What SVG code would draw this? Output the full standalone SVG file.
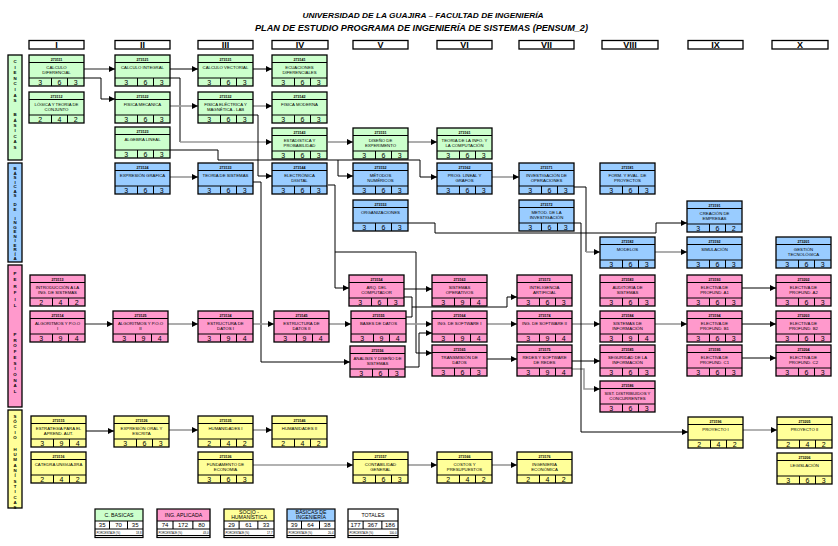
<svg xmlns="http://www.w3.org/2000/svg" xmlns:xlink="http://www.w3.org/1999/xlink" width="838" height="546" viewBox="0 0 838 546">
<style>
text{font-family:"Liberation Sans",Arial,sans-serif;fill:#000}
.g{fill:#CCFFCC}.b{fill:#99CCFF}.p{fill:#FF99CC}.y{fill:#FFFF99}.w{fill:#FFFFFF}
.cd{font-size:3.6px;font-weight:bold;text-anchor:middle}
.tt{font-size:4.3px;text-anchor:middle}
.v{font-size:7px;text-anchor:middle}
.k{fill:none;stroke:#000;stroke-width:1}
.gr{fill:none;stroke:#999;stroke-width:1.6}
.dk{fill:none;stroke:#555;stroke-width:1.3}
.hd{fill:#fff;stroke:#000;stroke-width:1.3}
.hn{font-size:9px;font-weight:bold;text-anchor:middle}
.vl{font-size:4.4px;font-weight:bold;text-anchor:middle}
.lg{stroke:#000;stroke-width:1.2}
.lt{font-size:5.2px;text-anchor:middle}
.lv{font-size:6px;text-anchor:middle}
.lp{font-size:2.8px}
</style>
<defs>
<marker id="a" viewBox="0 0 10 10" refX="10" refY="5" markerWidth="7" markerHeight="6" orient="auto" markerUnits="userSpaceOnUse"><path d="M0,0L10,5L0,10z" fill="#000"/></marker>
<g id="fr"><rect width="55" height="31" fill="none" stroke="#000" stroke-width="1.3"/><path d="M0 7.5H55M0 23H55M22.5 23V31M38.5 23V31" fill="none" stroke="#000" stroke-width="1"/></g>
<g id="lfr"><path d="M0 12H48M0 20H48M14.5 12V20M32.5 12V20M0 26.5H48" fill="none" stroke="#000" stroke-width="1"/><rect width="48" height="28.5" fill="none" stroke="#000" stroke-width="1.2"/></g>
</defs>
<rect width="838" height="546" fill="#fff"/>

<g id="title">
<text x="423" y="17.5" font-size="8" font-weight="bold" font-style="italic" text-anchor="middle" textLength="241" lengthAdjust="spacingAndGlyphs">UNIVERSIDAD DE LA GUAJIRA – FACULTAD DE INGENIERÍA</text>
<text x="421.5" y="30.5" font-size="9.5" font-weight="bold" font-style="italic" text-anchor="middle" textLength="333" lengthAdjust="spacingAndGlyphs">PLAN DE ESTUDIO PROGRAMA DE INGENIERÍA DE SISTEMAS (PENSUM_2)</text>
</g>

<g id="semesters">
<rect class="hd" x="29" y="40.5" width="55" height="8.5"/><text class="hn" x="56.5" y="48">I</text>
<rect class="hd" x="115" y="40.5" width="55" height="8.5"/><text class="hn" x="142.5" y="48">II</text>
<rect class="hd" x="198" y="40.5" width="55" height="8.5"/><text class="hn" x="225.5" y="48">III</text>
<rect class="hd" x="272" y="40.5" width="56" height="8.5"/><text class="hn" x="300" y="48">IV</text>
<rect class="hd" x="353" y="40.5" width="55" height="8.5"/><text class="hn" x="380.5" y="48">V</text>
<rect class="hd" x="437" y="40.5" width="55" height="8.5"/><text class="hn" x="464.5" y="48">VI</text>
<rect class="hd" x="519" y="40.5" width="55" height="8.5"/><text class="hn" x="546.5" y="48">VII</text>
<rect class="hd" x="602" y="40.5" width="56" height="8.5"/><text class="hn" x="630" y="48">VIII</text>
<rect class="hd" x="688" y="40.5" width="55" height="8.5"/><text class="hn" x="715.5" y="48">IX</text>
<rect class="hd" x="772" y="40.5" width="56" height="8.5"/><text class="hn" x="800" y="48">X</text>
</g>

<g id="areas">
<rect class="g" x="8" y="55" width="14" height="105" stroke="#000" stroke-width="1.3"/>
<text class="vl"><tspan x="15" y="63">C</tspan><tspan x="15" dy="5.6">I</tspan><tspan x="15" dy="5.6">E</tspan><tspan x="15" dy="5.6">N</tspan><tspan x="15" dy="5.6">C</tspan><tspan x="15" dy="5.6">I</tspan><tspan x="15" dy="5.6">A</tspan><tspan x="15" dy="5.6">S</tspan><tspan x="15" dy="14">B</tspan><tspan x="15" dy="5.4">Á</tspan><tspan x="15" dy="5.4">S</tspan><tspan x="15" dy="5.4">I</tspan><tspan x="15" dy="5.4">C</tspan><tspan x="15" dy="5.4">A</tspan><tspan x="15" dy="5.4">S</tspan></text>
<rect class="b" x="8" y="163" width="14" height="99" stroke="#000" stroke-width="1.3"/>
<text class="vl"><tspan x="15" y="170">B</tspan><tspan x="15" dy="4.5">Á</tspan><tspan x="15" dy="4.5">S</tspan><tspan x="15" dy="4.5">I</tspan><tspan x="15" dy="4.5">C</tspan><tspan x="15" dy="4.5">A</tspan><tspan x="15" dy="4.5">S</tspan><tspan x="15" dy="9">D</tspan><tspan x="15" dy="4.5">E</tspan><tspan x="15" dy="9">I</tspan><tspan x="15" dy="4.5">N</tspan><tspan x="15" dy="4.5">G</tspan><tspan x="15" dy="4.5">E</tspan><tspan x="15" dy="4.5">N</tspan><tspan x="15" dy="4.5">I</tspan><tspan x="15" dy="4.5">E</tspan><tspan x="15" dy="4.5">R</tspan><tspan x="15" dy="4.5">Í</tspan><tspan x="15" dy="4.5">A</tspan></text>
<rect class="p" x="8" y="265" width="14" height="142" stroke="#000" stroke-width="1.3"/>
<text class="vl"><tspan x="15" y="275">P</tspan><tspan x="15" dy="6.4">E</tspan><tspan x="15" dy="6.4">R</tspan><tspan x="15" dy="6.4">F</tspan><tspan x="15" dy="6.4">I</tspan><tspan x="15" dy="6.4">L</tspan><tspan x="15" dy="29">P</tspan><tspan x="15" dy="5.7">R</tspan><tspan x="15" dy="5.7">O</tspan><tspan x="15" dy="5.7">F</tspan><tspan x="15" dy="5.7">E</tspan><tspan x="15" dy="5.7">S</tspan><tspan x="15" dy="5.7">I</tspan><tspan x="15" dy="5.7">O</tspan><tspan x="15" dy="5.7">N</tspan><tspan x="15" dy="5.7">A</tspan><tspan x="15" dy="5.7">L</tspan></text>
<rect class="y" x="8" y="410" width="14" height="98" stroke="#000" stroke-width="1.3"/>
<text class="vl"><tspan x="15" y="418">S</tspan><tspan x="15" dy="5.2">Ó</tspan><tspan x="15" dy="5.2">C</tspan><tspan x="15" dy="5.2">I</tspan><tspan x="15" dy="5.2">O</tspan><tspan x="15" dy="12">H</tspan><tspan x="15" dy="5.3">U</tspan><tspan x="15" dy="5.3">M</tspan><tspan x="15" dy="5.3">A</tspan><tspan x="15" dy="5.3">N</tspan><tspan x="15" dy="5.3">Í</tspan><tspan x="15" dy="5.3">S</tspan><tspan x="15" dy="5.3">T</tspan><tspan x="15" dy="5.3">I</tspan><tspan x="15" dy="5.3">C</tspan><tspan x="15" dy="5.3">A</tspan><tspan x="15" dy="5.3">S</tspan></text>
</g>

<g id="connectors">
<path class="dk" d="M84 69H115" marker-end="url(#a)"/>
<path class="k" d="M84 78H101V99H115" marker-end="url(#a)"/>
<path class="k" d="M170 69H198" marker-end="url(#a)"/>
<path class="k" d="M170 78H180V142"/>
<path class="gr" d="M180 142H272" marker-end="url(#a)"/>
<path class="gr" d="M170 106H198" marker-end="url(#a)"/>
<path class="k" d="M170 150H218V160H420V177H437" marker-end="url(#a)"/>
<path class="k" d="M338 160V176H353" marker-end="url(#a)"/>
<path class="gr" d="M253 106H272" marker-end="url(#a)"/>
<path class="k" d="M253 115H258V176H272" marker-end="url(#a)"/>
<path class="k" d="M253 69H272" marker-end="url(#a)"/>
<path class="gr" d="M328 142H353" marker-end="url(#a)"/>
<path class="gr" d="M408 142H437" marker-end="url(#a)"/>
<path class="gr" d="M170 177H198" marker-end="url(#a)"/>
<path class="gr" d="M492 177H519" marker-end="url(#a)"/>
<path class="k" d="M574 187H586V252"/>
<path class="gr" d="M586 252H600" marker-end="url(#a)"/>
<path class="gr" d="M655 252H687" marker-end="url(#a)"/>
<path class="k" d="M407 223H435V233H656V223H687" marker-end="url(#a)"/>
<path class="k" d="M328 185H335V288H349" marker-end="url(#a)"/>
<path class="k" d="M335 252H416V353H432" marker-end="url(#a)"/>
<path class="k" d="M404 289H432" marker-end="url(#a)"/>
<path class="k" d="M404 297H412V317H406M412 307H507V297H517" marker-end="url(#a)"/>
<path class="k" d="M253 182H261V362H350" marker-end="url(#a)"/>
<path class="k" d="M405 367H419V333H432" marker-end="url(#a)"/>
<path class="dk" d="M85 324H113" marker-end="url(#a)"/>
<path class="gr" d="M168 324H198" marker-end="url(#a)"/>
<path class="gr" d="M253 324H274" marker-end="url(#a)"/>
<path class="gr" d="M329 324H351" marker-end="url(#a)"/>
<path class="gr" d="M406 324H432" marker-end="url(#a)"/>
<path class="gr" d="M487 324H517" marker-end="url(#a)"/>
<path class="gr" d="M572 324H600" marker-end="url(#a)"/>
<path class="gr" d="M655 324H687" marker-end="url(#a)"/>
<path class="k" d="M742 288H776" marker-end="url(#a)"/>
<path class="k" d="M742 324H776" marker-end="url(#a)"/>
<path class="k" d="M742 358H776" marker-end="url(#a)"/>
<path class="k" d="M487 359H517" marker-end="url(#a)"/>
<path class="k" d="M572 361H600" marker-end="url(#a)"/>
<path class="gr" d="M572 369H584V389H600" marker-end="url(#a)"/>
<path class="k" d="M574 223H581V432H688" marker-end="url(#a)"/>
<path class="k" d="M86 431H114" marker-end="url(#a)"/>
<path class="gr" d="M169 430H198" marker-end="url(#a)"/>
<path class="gr" d="M253 430H272" marker-end="url(#a)"/>
<path class="gr" d="M253 465H353" marker-end="url(#a)"/>
<path class="gr" d="M408 465H437" marker-end="url(#a)"/>
<path class="gr" d="M492 465H517" marker-end="url(#a)"/>
<path class="gr" d="M743 430H777" marker-end="url(#a)"/>
</g>

<g id="n273111" transform="translate(29,55)"><rect class="g" width="55" height="31"/><use href="#fr"/><text class="cd" x="27.5" y="5.8">273111</text><text class="tt" x="27.5" y="13.8">CALCULO</text><text class="tt" x="27.5" y="18.6">DIFERENCIAL</text><text class="v" x="11.2" y="29.8">3</text><text class="v" x="30.5" y="29.8">6</text><text class="v" x="46.7" y="29.8">3</text></g>
<g id="n273112" transform="translate(29,92)"><rect class="g" width="55" height="31"/><use href="#fr"/><text class="cd" x="27.5" y="5.8">273112</text><text class="tt" x="27.5" y="13.8">LÓGICA Y TEORÍA DE</text><text class="tt" x="27.5" y="18.6">CONJUNTO</text><text class="v" x="11.2" y="29.8">2</text><text class="v" x="30.5" y="29.8">4</text><text class="v" x="46.7" y="29.8">2</text></g>
<g id="n273113" transform="translate(30,275)"><rect class="p" width="55" height="31"/><use href="#fr"/><text class="cd" x="27.5" y="5.8">273113</text><text class="tt" x="27.5" y="13.8">INTRODUCCIÓN A LA</text><text class="tt" x="27.5" y="18.6">ING. DE SISTEMAS</text><text class="v" x="11.2" y="29.8">2</text><text class="v" x="30.5" y="29.8">4</text><text class="v" x="46.7" y="29.8">2</text></g>
<g id="n273114" transform="translate(30,311)"><rect class="p" width="55" height="31"/><use href="#fr"/><text class="cd" x="27.5" y="5.8">273114</text><text class="tt" x="27.5" y="13.8">ALGORITMOS Y P.O.O</text><text class="tt" x="27.5" y="18.6">I</text><text class="v" x="11.2" y="29.8">3</text><text class="v" x="30.5" y="29.8">9</text><text class="v" x="46.7" y="29.8">4</text></g>
<g id="n273115" transform="translate(31,416)"><rect class="y" width="55" height="31"/><use href="#fr"/><text class="cd" x="27.5" y="5.8">273115</text><text class="tt" x="27.5" y="13.8">ESTRATEGIA PARA EL</text><text class="tt" x="27.5" y="18.6">APREND. AUT.</text><text class="v" x="11.2" y="29.8">3</text><text class="v" x="30.5" y="29.8">9</text><text class="v" x="46.7" y="29.8">4</text></g>
<g id="n273116" transform="translate(31,452)"><rect class="y" width="55" height="31"/><use href="#fr"/><text class="cd" x="27.5" y="5.8">273116</text><text class="tt" x="27.5" y="13.8">CÁTEDRA UNIGUAJIRA</text><text class="v" x="11.2" y="29.8">2</text><text class="v" x="30.5" y="29.8">4</text><text class="v" x="46.7" y="29.8">2</text></g>

<g id="n273121" transform="translate(115,55)"><rect class="g" width="55" height="31"/><use href="#fr"/><text class="cd" x="27.5" y="5.8">273121</text><text class="tt" x="27.5" y="13.8">CALCULO INTEGRAL</text><text class="v" x="11.2" y="29.8">3</text><text class="v" x="30.5" y="29.8">6</text><text class="v" x="46.7" y="29.8">3</text></g>
<g id="n273122" transform="translate(115,92)"><rect class="g" width="55" height="31"/><use href="#fr"/><text class="cd" x="27.5" y="5.8">273122</text><text class="tt" x="27.5" y="13.8">FÍSICA MECÁNICA</text><text class="v" x="11.2" y="29.8">3</text><text class="v" x="30.5" y="29.8">6</text><text class="v" x="46.7" y="29.8">3</text></g>
<g id="n273123" transform="translate(115,127)"><rect class="g" width="55" height="31"/><use href="#fr"/><text class="cd" x="27.5" y="5.8">273123</text><text class="tt" x="27.5" y="13.8">ALGEBRA LINEAL</text><text class="v" x="11.2" y="29.8">3</text><text class="v" x="30.5" y="29.8">6</text><text class="v" x="46.7" y="29.8">3</text></g>
<g id="n273124" transform="translate(115,163)"><rect class="b" width="55" height="31"/><use href="#fr"/><text class="cd" x="27.5" y="5.8">273124</text><text class="tt" x="27.5" y="13.8">EXPRESIÓN GRAFICA</text><text class="v" x="11.2" y="29.8">3</text><text class="v" x="30.5" y="29.8">6</text><text class="v" x="46.7" y="29.8">3</text></g>
<g id="n273125" transform="translate(113,311)"><rect class="p" width="55" height="31"/><use href="#fr"/><text class="cd" x="27.5" y="5.8">273125</text><text class="tt" x="27.5" y="13.8">ALGORITMOS Y P.O.O</text><text class="tt" x="27.5" y="18.6">II</text><text class="v" x="11.2" y="29.8">3</text><text class="v" x="30.5" y="29.8">9</text><text class="v" x="46.7" y="29.8">4</text></g>
<g id="n273126" transform="translate(114,416)"><rect class="y" width="55" height="31"/><use href="#fr"/><text class="cd" x="27.5" y="5.8">273126</text><text class="tt" x="27.5" y="13.8">EXPRESIÓN ORAL Y</text><text class="tt" x="27.5" y="18.6">ESCRITA</text><text class="v" x="11.2" y="29.8">3</text><text class="v" x="30.5" y="29.8">6</text><text class="v" x="46.7" y="29.8">3</text></g>

<g id="n273131" transform="translate(198,55)"><rect class="g" width="55" height="31"/><use href="#fr"/><text class="cd" x="27.5" y="5.8">273131</text><text class="tt" x="27.5" y="13.8">CALCULO VECTORIAL</text><text class="v" x="11.2" y="29.8">3</text><text class="v" x="30.5" y="29.8">6</text><text class="v" x="46.7" y="29.8">3</text></g>
<g id="n273132" transform="translate(198,92)"><rect class="g" width="55" height="31"/><use href="#fr"/><text class="cd" x="27.5" y="5.8">273132</text><text class="tt" x="27.5" y="13.8">FÍSICA ELÉCTRICA Y</text><text class="tt" x="27.5" y="18.6">MAGNÉTICA - LAB</text><text class="v" x="11.2" y="29.8">3</text><text class="v" x="30.5" y="29.8">6</text><text class="v" x="46.7" y="29.8">3</text></g>
<g id="n273133" transform="translate(198,163)"><rect class="b" width="55" height="31"/><use href="#fr"/><text class="cd" x="27.5" y="5.8">273133</text><text class="tt" x="27.5" y="13.8">TEORÍA DE SISTEMAS</text><text class="v" x="11.2" y="29.8">3</text><text class="v" x="30.5" y="29.8">6</text><text class="v" x="46.7" y="29.8">3</text></g>
<g id="n273134" transform="translate(198,311)"><rect class="p" width="55" height="31"/><use href="#fr"/><text class="cd" x="27.5" y="5.8">273134</text><text class="tt" x="27.5" y="13.8">ESTRUCTURA DE</text><text class="tt" x="27.5" y="18.6">DATOS I</text><text class="v" x="11.2" y="29.8">3</text><text class="v" x="30.5" y="29.8">9</text><text class="v" x="46.7" y="29.8">4</text></g>
<g id="n273135" transform="translate(198,416)"><rect class="y" width="55" height="31"/><use href="#fr"/><text class="cd" x="27.5" y="5.8">273135</text><text class="tt" x="27.5" y="13.8">HUMANIDADES I</text><text class="v" x="11.2" y="29.8">2</text><text class="v" x="30.5" y="29.8">4</text><text class="v" x="46.7" y="29.8">2</text></g>
<g id="n273136" transform="translate(198,452)"><rect class="y" width="55" height="31"/><use href="#fr"/><text class="cd" x="27.5" y="5.8">273136</text><text class="tt" x="27.5" y="13.8">FUNDAMENTO DE</text><text class="tt" x="27.5" y="18.6">ECONOMÍA</text><text class="v" x="11.2" y="29.8">3</text><text class="v" x="30.5" y="29.8">6</text><text class="v" x="46.7" y="29.8">3</text></g>

<g id="n273141" transform="translate(272,55)"><rect class="g" width="55" height="31"/><use href="#fr"/><text class="cd" x="27.5" y="5.8">273141</text><text class="tt" x="27.5" y="13.8">ECUACIONES</text><text class="tt" x="27.5" y="18.6">DIFERENCIALES</text><text class="v" x="11.2" y="29.8">3</text><text class="v" x="30.5" y="29.8">6</text><text class="v" x="46.7" y="29.8">3</text></g>
<g id="n273142" transform="translate(272,92)"><rect class="g" width="55" height="31"/><use href="#fr"/><text class="cd" x="27.5" y="5.8">273142</text><text class="tt" x="27.5" y="13.8">FÍSICA MODERNA</text><text class="v" x="11.2" y="29.8">3</text><text class="v" x="30.5" y="29.8">6</text><text class="v" x="46.7" y="29.8">3</text></g>
<g id="n273143" transform="translate(272,128)"><rect class="g" width="55" height="31"/><use href="#fr"/><text class="cd" x="27.5" y="5.8">273143</text><text class="tt" x="27.5" y="13.8">ESTADÍSTICA Y</text><text class="tt" x="27.5" y="18.6">PROBABILIDAD</text><text class="v" x="11.2" y="29.8">3</text><text class="v" x="30.5" y="29.8">6</text><text class="v" x="46.7" y="29.8">3</text></g>
<g id="n273144" transform="translate(272,163)"><rect class="b" width="55" height="31"/><use href="#fr"/><text class="cd" x="27.5" y="5.8">273144</text><text class="tt" x="27.5" y="13.8">ELECTRÓNICA</text><text class="tt" x="27.5" y="18.6">DIGITAL</text><text class="v" x="11.2" y="29.8">3</text><text class="v" x="30.5" y="29.8">6</text><text class="v" x="46.7" y="29.8">3</text></g>
<g id="n273145" transform="translate(274,311)"><rect class="p" width="55" height="31"/><use href="#fr"/><text class="cd" x="27.5" y="5.8">273145</text><text class="tt" x="27.5" y="13.8">ESTRUCTURA DE</text><text class="tt" x="27.5" y="18.6">DATOS II</text><text class="v" x="11.2" y="29.8">3</text><text class="v" x="30.5" y="29.8">9</text><text class="v" x="46.7" y="29.8">4</text></g>
<g id="n273146" transform="translate(272,416)"><rect class="y" width="55" height="31"/><use href="#fr"/><text class="cd" x="27.5" y="5.8">273146</text><text class="tt" x="27.5" y="13.8">HUMANIDADES II</text><text class="v" x="11.2" y="29.8">2</text><text class="v" x="30.5" y="29.8">4</text><text class="v" x="46.7" y="29.8">2</text></g>

<g id="n273151" transform="translate(353,128)"><rect class="g" width="55" height="31"/><use href="#fr"/><text class="cd" x="27.5" y="5.8">273151</text><text class="tt" x="27.5" y="13.8">DISEÑO DE</text><text class="tt" x="27.5" y="18.6">EXPERIMENTO</text><text class="v" x="11.2" y="29.8">3</text><text class="v" x="30.5" y="29.8">6</text><text class="v" x="46.7" y="29.8">3</text></g>
<g id="n273152" transform="translate(353,163)"><rect class="b" width="55" height="31"/><use href="#fr"/><text class="cd" x="27.5" y="5.8">273152</text><text class="tt" x="27.5" y="13.8">MÉTODOS</text><text class="tt" x="27.5" y="18.6">NUMÉRICOS</text><text class="v" x="11.2" y="29.8">3</text><text class="v" x="30.5" y="29.8">6</text><text class="v" x="46.7" y="29.8">3</text></g>
<g id="n273153" transform="translate(353,200)"><rect class="b" width="55" height="31"/><use href="#fr"/><text class="cd" x="27.5" y="5.8">273153</text><text class="tt" x="27.5" y="13.8">ORGANIZACIONES</text><text class="v" x="11.2" y="29.8">3</text><text class="v" x="30.5" y="29.8">6</text><text class="v" x="46.7" y="29.8">3</text></g>
<g id="n273154" transform="translate(349,275)"><rect class="p" width="55" height="31"/><use href="#fr"/><text class="cd" x="27.5" y="5.8">273154</text><text class="tt" x="27.5" y="13.8">ARQ. DEL</text><text class="tt" x="27.5" y="18.6">COMPUTADOR</text><text class="v" x="11.2" y="29.8">3</text><text class="v" x="30.5" y="29.8">6</text><text class="v" x="46.7" y="29.8">3</text></g>
<g id="n273155" transform="translate(351,311)"><rect class="p" width="55" height="31"/><use href="#fr"/><text class="cd" x="27.5" y="5.8">273155</text><text class="tt" x="27.5" y="13.8">BASES DE DATOS</text><text class="v" x="11.2" y="29.8">3</text><text class="v" x="30.5" y="29.8">9</text><text class="v" x="46.7" y="29.8">4</text></g>
<g id="n273156" transform="translate(350,346)"><rect class="p" width="55" height="31"/><use href="#fr"/><text class="cd" x="27.5" y="5.8">273156</text><text class="tt" x="27.5" y="13.8">ANÁLISIS Y DISEÑO DE</text><text class="tt" x="27.5" y="18.6">SISTEMAS</text><text class="v" x="11.2" y="29.8">3</text><text class="v" x="30.5" y="29.8">6</text><text class="v" x="46.7" y="29.8">3</text></g>
<g id="n273157" transform="translate(353,452)"><rect class="y" width="55" height="31"/><use href="#fr"/><text class="cd" x="27.5" y="5.8">273157</text><text class="tt" x="27.5" y="13.8">CONTABILIDAD</text><text class="tt" x="27.5" y="18.6">GENERAL</text><text class="v" x="11.2" y="29.8">3</text><text class="v" x="30.5" y="29.8">6</text><text class="v" x="46.7" y="29.8">3</text></g>

<g id="n273161" transform="translate(437,128)"><rect class="g" width="55" height="31"/><use href="#fr"/><text class="cd" x="27.5" y="5.8">273161</text><text class="tt" x="27.5" y="13.8">TEORÍA DE LA INFO. Y</text><text class="tt" x="27.5" y="18.6">LA COMPUTACIÓN</text><text class="v" x="11.2" y="29.8">3</text><text class="v" x="30.5" y="29.8">6</text><text class="v" x="46.7" y="29.8">3</text></g>
<g id="n273162" transform="translate(437,163)"><rect class="b" width="55" height="31"/><use href="#fr"/><text class="cd" x="27.5" y="5.8">273162</text><text class="tt" x="27.5" y="13.8">PROG. LINEAL Y</text><text class="tt" x="27.5" y="18.6">GRAFOS</text><text class="v" x="11.2" y="29.8">3</text><text class="v" x="30.5" y="29.8">6</text><text class="v" x="46.7" y="29.8">3</text></g>
<g id="n273163" transform="translate(432,275)"><rect class="p" width="55" height="31"/><use href="#fr"/><text class="cd" x="27.5" y="5.8">273163</text><text class="tt" x="27.5" y="13.8">SISTEMAS</text><text class="tt" x="27.5" y="18.6">OPERATIVOS</text><text class="v" x="11.2" y="29.8">3</text><text class="v" x="30.5" y="29.8">9</text><text class="v" x="46.7" y="29.8">4</text></g>
<g id="n273164" transform="translate(432,311)"><rect class="p" width="55" height="31"/><use href="#fr"/><text class="cd" x="27.5" y="5.8">273164</text><text class="tt" x="27.5" y="13.8">ING. DE SOFTWARE I</text><text class="v" x="11.2" y="29.8">3</text><text class="v" x="30.5" y="29.8">9</text><text class="v" x="46.7" y="29.8">4</text></g>
<g id="n273165" transform="translate(432,345)"><rect class="p" width="55" height="31"/><use href="#fr"/><text class="cd" x="27.5" y="5.8">273165</text><text class="tt" x="27.5" y="13.8">TRANSMISIÓN DE</text><text class="tt" x="27.5" y="18.6">DATOS</text><text class="v" x="11.2" y="29.8">3</text><text class="v" x="30.5" y="29.8">6</text><text class="v" x="46.7" y="29.8">3</text></g>
<g id="n273166" transform="translate(437,452)"><rect class="y" width="55" height="31"/><use href="#fr"/><text class="cd" x="27.5" y="5.8">273166</text><text class="tt" x="27.5" y="13.8">COSTOS Y</text><text class="tt" x="27.5" y="18.6">PRESUPUESTOS</text><text class="v" x="11.2" y="29.8">2</text><text class="v" x="30.5" y="29.8">4</text><text class="v" x="46.7" y="29.8">2</text></g>

<g id="n273171" transform="translate(519,163)"><rect class="b" width="55" height="31"/><use href="#fr"/><text class="cd" x="27.5" y="5.8">273171</text><text class="tt" x="27.5" y="13.8">INVESTIGACIÓN DE</text><text class="tt" x="27.5" y="18.6">OPERACIONES</text><text class="v" x="11.2" y="29.8">3</text><text class="v" x="30.5" y="29.8">6</text><text class="v" x="46.7" y="29.8">3</text></g>
<g id="n273172" transform="translate(519,200)"><rect class="b" width="55" height="31"/><use href="#fr"/><text class="cd" x="27.5" y="5.8">273172</text><text class="tt" x="27.5" y="13.8">METOD. DE LA</text><text class="tt" x="27.5" y="18.6">INVESTIGACIÓN</text><text class="v" x="11.2" y="29.8">3</text><text class="v" x="30.5" y="29.8">6</text><text class="v" x="46.7" y="29.8">3</text></g>
<g id="n273173" transform="translate(517,275)"><rect class="p" width="55" height="31"/><use href="#fr"/><text class="cd" x="27.5" y="5.8">273173</text><text class="tt" x="27.5" y="13.8">INTELIGENCIA</text><text class="tt" x="27.5" y="18.6">ARTIFICIAL</text><text class="v" x="11.2" y="29.8">3</text><text class="v" x="30.5" y="29.8">6</text><text class="v" x="46.7" y="29.8">3</text></g>
<g id="n273174" transform="translate(517,311)"><rect class="p" width="55" height="31"/><use href="#fr"/><text class="cd" x="27.5" y="5.8">273174</text><text class="tt" x="27.5" y="13.8">ING. DE SOFTWARE II</text><text class="v" x="11.2" y="29.8">3</text><text class="v" x="30.5" y="29.8">9</text><text class="v" x="46.7" y="29.8">4</text></g>
<g id="n273175" transform="translate(517,345)"><rect class="p" width="55" height="31"/><use href="#fr"/><text class="cd" x="27.5" y="5.8">273175</text><text class="tt" x="27.5" y="13.8">REDES Y SOFTWARE</text><text class="tt" x="27.5" y="18.6">DE REDES</text><text class="v" x="11.2" y="29.8">3</text><text class="v" x="30.5" y="29.8">9</text><text class="v" x="46.7" y="29.8">4</text></g>
<g id="n273176" transform="translate(517,452)"><rect class="y" width="55" height="31"/><use href="#fr"/><text class="cd" x="27.5" y="5.8">273176</text><text class="tt" x="27.5" y="13.8">INGENIERÍA</text><text class="tt" x="27.5" y="18.6">ECONÓMICA</text><text class="v" x="11.2" y="29.8">2</text><text class="v" x="30.5" y="29.8">4</text><text class="v" x="46.7" y="29.8">2</text></g>

<g id="n273181" transform="translate(600,163)"><rect class="b" width="55" height="31"/><use href="#fr"/><text class="cd" x="27.5" y="5.8">273181</text><text class="tt" x="27.5" y="13.8">FORM. Y EVAL. DE</text><text class="tt" x="27.5" y="18.6">PROYECTOS</text><text class="v" x="11.2" y="29.8">3</text><text class="v" x="30.5" y="29.8">6</text><text class="v" x="46.7" y="29.8">3</text></g>
<g id="n273182" transform="translate(600,237)"><rect class="b" width="55" height="31"/><use href="#fr"/><text class="cd" x="27.5" y="5.8">273182</text><text class="tt" x="27.5" y="13.8">MODELOS</text><text class="v" x="11.2" y="29.8">3</text><text class="v" x="30.5" y="29.8">6</text><text class="v" x="46.7" y="29.8">3</text></g>
<g id="n273183" transform="translate(600,275)"><rect class="p" width="55" height="31"/><use href="#fr"/><text class="cd" x="27.5" y="5.8">273183</text><text class="tt" x="27.5" y="13.8">AUDITORIA DE</text><text class="tt" x="27.5" y="18.6">SISTEMAS</text><text class="v" x="11.2" y="29.8">3</text><text class="v" x="30.5" y="29.8">6</text><text class="v" x="46.7" y="29.8">3</text></g>
<g id="n273184" transform="translate(600,311)"><rect class="p" width="55" height="31"/><use href="#fr"/><text class="cd" x="27.5" y="5.8">273184</text><text class="tt" x="27.5" y="13.8">SISTEMAS DE</text><text class="tt" x="27.5" y="18.6">INFORMACIÓN</text><text class="v" x="11.2" y="29.8">3</text><text class="v" x="30.5" y="29.8">9</text><text class="v" x="46.7" y="29.8">4</text></g>
<g id="n273185" transform="translate(600,345)"><rect class="p" width="55" height="31"/><use href="#fr"/><text class="cd" x="27.5" y="5.8">273185</text><text class="tt" x="27.5" y="13.8">SEGURIDAD DE LA</text><text class="tt" x="27.5" y="18.6">INFORMACIÓN</text><text class="v" x="11.2" y="29.8">3</text><text class="v" x="30.5" y="29.8">6</text><text class="v" x="46.7" y="29.8">3</text></g>
<g id="n273186" transform="translate(600,381)"><rect class="p" width="55" height="31"/><use href="#fr"/><text class="cd" x="27.5" y="5.8">273186</text><text class="tt" x="27.5" y="13.8">SIST. DISTRIBUIDOS Y</text><text class="tt" x="27.5" y="18.6">CONCURRENTES</text><text class="v" x="11.2" y="29.8">3</text><text class="v" x="30.5" y="29.8">6</text><text class="v" x="46.7" y="29.8">3</text></g>

<g id="n273191" transform="translate(687,201)"><rect class="b" width="55" height="31"/><use href="#fr"/><text class="cd" x="27.5" y="5.8">273191</text><text class="tt" x="27.5" y="13.8">CREACIÓN DE</text><text class="tt" x="27.5" y="18.6">EMPRESAS</text><text class="v" x="11.2" y="29.8">3</text><text class="v" x="30.5" y="29.8">6</text><text class="v" x="46.7" y="29.8">2</text></g>
<g id="n273192" transform="translate(687,237)"><rect class="b" width="55" height="31"/><use href="#fr"/><text class="cd" x="27.5" y="5.8">273192</text><text class="tt" x="27.5" y="13.8">SIMULACIÓN</text><text class="v" x="11.2" y="29.8">3</text><text class="v" x="30.5" y="29.8">6</text><text class="v" x="46.7" y="29.8">3</text></g>
<g id="n273193" transform="translate(687,275)"><rect class="p" width="55" height="31"/><use href="#fr"/><text class="cd" x="27.5" y="5.8">273193</text><text class="tt" x="27.5" y="13.8">ELECTIVA DE</text><text class="tt" x="27.5" y="18.6">PROFUND. A1</text><text class="v" x="11.2" y="29.8">3</text><text class="v" x="30.5" y="29.8">6</text><text class="v" x="46.7" y="29.8">3</text></g>
<g id="n273194" transform="translate(687,311)"><rect class="p" width="55" height="31"/><use href="#fr"/><text class="cd" x="27.5" y="5.8">273194</text><text class="tt" x="27.5" y="13.8">ELECTIVA DE</text><text class="tt" x="27.5" y="18.6">PROFUND. B1</text><text class="v" x="11.2" y="29.8">3</text><text class="v" x="30.5" y="29.8">6</text><text class="v" x="46.7" y="29.8">3</text></g>
<g id="n273195" transform="translate(687,345)"><rect class="p" width="55" height="31"/><use href="#fr"/><text class="cd" x="27.5" y="5.8">273195</text><text class="tt" x="27.5" y="13.8">ELECTIVA DE</text><text class="tt" x="27.5" y="18.6">PROFUND. C1</text><text class="v" x="11.2" y="29.8">3</text><text class="v" x="30.5" y="29.8">6</text><text class="v" x="46.7" y="29.8">3</text></g>
<g id="n273196" transform="translate(688,417)"><rect class="y" width="55" height="31"/><use href="#fr"/><text class="cd" x="27.5" y="5.8">273196</text><text class="tt" x="27.5" y="13.8">PROYECTO I</text><text class="v" x="11.2" y="29.8">2</text><text class="v" x="30.5" y="29.8">4</text><text class="v" x="46.7" y="29.8">2</text></g>

<g id="n273201" transform="translate(776,237)"><rect class="b" width="55" height="31"/><use href="#fr"/><text class="cd" x="27.5" y="5.8">273201</text><text class="tt" x="27.5" y="13.8">GESTIÓN</text><text class="tt" x="27.5" y="18.6">TECNOLÓGICA</text><text class="v" x="11.2" y="29.8">3</text><text class="v" x="30.5" y="29.8">6</text><text class="v" x="46.7" y="29.8">3</text></g>
<g id="n273202" transform="translate(776,275)"><rect class="p" width="55" height="31"/><use href="#fr"/><text class="cd" x="27.5" y="5.8">273202</text><text class="tt" x="27.5" y="13.8">ELECTIVA DE</text><text class="tt" x="27.5" y="18.6">PROFUND. A2</text><text class="v" x="11.2" y="29.8">3</text><text class="v" x="30.5" y="29.8">6</text><text class="v" x="46.7" y="29.8">3</text></g>
<g id="n273203" transform="translate(776,311)"><rect class="p" width="55" height="31"/><use href="#fr"/><text class="cd" x="27.5" y="5.8">273203</text><text class="tt" x="27.5" y="13.8">ELECTIVA DE</text><text class="tt" x="27.5" y="18.6">PROFUND. B2</text><text class="v" x="11.2" y="29.8">3</text><text class="v" x="30.5" y="29.8">6</text><text class="v" x="46.7" y="29.8">3</text></g>
<g id="n273204" transform="translate(776,345)"><rect class="p" width="55" height="31"/><use href="#fr"/><text class="cd" x="27.5" y="5.8">273204</text><text class="tt" x="27.5" y="13.8">ELECTIVA DE</text><text class="tt" x="27.5" y="18.6">PROFUND. C2</text><text class="v" x="11.2" y="29.8">3</text><text class="v" x="30.5" y="29.8">6</text><text class="v" x="46.7" y="29.8">3</text></g>
<g id="n273205" transform="translate(777,417)"><rect class="y" width="55" height="31"/><use href="#fr"/><text class="cd" x="27.5" y="5.8">273205</text><text class="tt" x="27.5" y="13.8">PROYECTO II</text><text class="v" x="11.2" y="29.8">2</text><text class="v" x="30.5" y="29.8">4</text><text class="v" x="46.7" y="29.8">2</text></g>
<g id="n273206" transform="translate(777,453)"><rect class="y" width="55" height="31"/><use href="#fr"/><text class="cd" x="27.5" y="5.8">273206</text><text class="tt" x="27.5" y="13.8">LEGISLACIÓN</text><text class="v" x="11.2" y="29.8">3</text><text class="v" x="30.5" y="29.8">6</text><text class="v" x="46.7" y="29.8">3</text></g>

<g id="legend">
<g id="lg-basicas" transform="translate(95,509)"><rect class="g" width="48" height="12"/><rect class="w" y="12" width="48" height="16.5"/><use href="#lfr"/><text class="lt" x="24" y="8">C. BASICAS</text><text class="lv" x="7.2" y="18.3">35</text><text class="lv" x="23.5" y="18.3">70</text><text class="lv" x="40.2" y="18.3">35</text><text class="lp" x="1.5" y="24.5">PORCENTAJE  (%)</text><text class="lp" x="46.5" y="24.5" text-anchor="end">18,8</text></g>
<g id="lg-aplicada" transform="translate(157,509)"><rect class="p" width="53" height="12"/><rect class="w" y="12" width="53" height="16.5"/><g transform="scale(1.104,1)"><use href="#lfr"/></g><text class="lt" x="26.5" y="8">ING. APLICADA</text><text class="lv" x="8" y="18.3">74</text><text class="lv" x="26" y="18.3">172</text><text class="lv" x="44.5" y="18.3">80</text><text class="lp" x="1.5" y="24.5">PORCENTAJE  (%)</text><text class="lp" x="51.5" y="24.5" text-anchor="end">43,0</text></g>
<g id="lg-socio" transform="translate(224,509)"><rect class="y" width="50" height="12"/><rect class="w" y="12" width="50" height="16.5"/><g transform="scale(1.042,1)"><use href="#lfr"/></g><text class="lt" x="25" y="5.3" font-size="4.3">SOCIO -</text><text class="lt" x="25" y="10.2" font-size="4.3">HUMANÍSTICA</text><text class="lv" x="7.5" y="18.3">29</text><text class="lv" x="24.5" y="18.3">61</text><text class="lv" x="42" y="18.3">33</text><text class="lp" x="1.5" y="24.5">PORCENTAJE  (%)</text><text class="lp" x="48.5" y="24.5" text-anchor="end">17,7</text></g>
<g id="lg-bing" transform="translate(287,509)"><rect class="b" width="48" height="12"/><rect class="w" y="12" width="48" height="16.5"/><use href="#lfr"/><text class="lt" x="24" y="5.3" font-size="4.3">BÁSICAS  DE</text><text class="lt" x="24" y="10.2" font-size="4.3">INGENIERÍA</text><text class="lv" x="7.2" y="18.3">39</text><text class="lv" x="23.5" y="18.3">64</text><text class="lv" x="40.2" y="18.3">38</text><text class="lp" x="1.5" y="24.5">PORCENTAJE  (%)</text><text class="lp" x="46.5" y="24.5" text-anchor="end">20,4</text></g>
<g id="lg-totales" transform="translate(348,509)"><rect class="w" width="50" height="28.5"/><g transform="scale(1.042,1)"><use href="#lfr"/></g><text class="lt" x="25" y="8">TOTALES</text><text class="lv" x="7.5" y="18.3">177</text><text class="lv" x="24.5" y="18.3">367</text><text class="lv" x="42" y="18.3">186</text><text class="lp" x="1.5" y="24.5">PORCENTAJE  (%)</text><text class="lp" x="48.5" y="24.5" text-anchor="end">100,0</text></g>
</g>
</svg>
